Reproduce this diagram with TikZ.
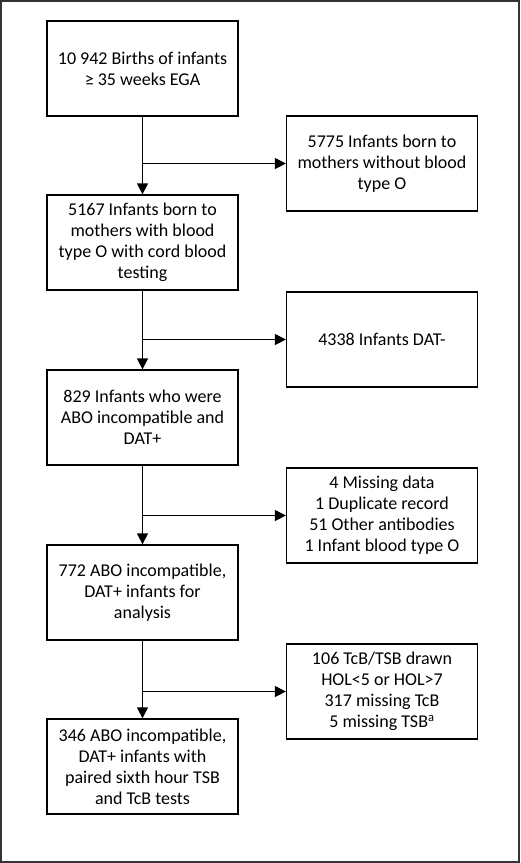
\documentclass[tikz,border=0pt]{standalone}
\usepackage{fontspec}
\setmainfont{Carlito}
\usetikzlibrary{arrows.meta}
\tikzset{
  stepbox/.style={draw, line width=1.3pt, minimum width=191pt, minimum height=95pt,
    align=center, inner sep=2pt, font=\fontsize{18}{21}\selectfont},
  arr/.style={line width=1.3pt, -{Triangle[length=11pt, width=11pt]}}
}
\begin{document}
\begin{tikzpicture}[x=1pt, y=1pt]
      \useasboundingbox (0,0) rectangle (520,-863);
      \draw[black!80, line width=2pt] (1,-1) rectangle (519,-862);

      % main column
      \node[stepbox] (births) at (142.5,-68.5) {10 942 Births of infants\\≥ 35 weeks EGA};
      \node[stepbox] (typeO) at (142.5,-242.5) {5167 Infants born to\\mothers with blood\\type O with cord blood\\testing};
      \node[stepbox] (datpos) at (142.5,-417.5) {829 Infants who were\\ABO incompatible and\\DAT+};
      \node[stepbox] (analysis) at (142.5,-592.5) {772 ABO incompatible,\\DAT+ infants for\\analysis};
      \node[stepbox] (paired) at (142.5,-766.5) {346 ABO incompatible,\\DAT+ infants with\\paired sixth hour TSB\\and TcB tests};

      % exclusions
      \node[stepbox] (notO) at (382,-163.5) {5775 Infants born to\\mothers without blood\\type O};
      \node[stepbox] (datneg) at (382,-339.5) {4338 Infants DAT-};
      \node[stepbox] (other) at (382,-515.5) {4 Missing data\\1 Duplicate record\\51 Other antibodies\\1 Infant blood type O};
      \node[stepbox] (missing) at (382,-691.5) {106 TcB/TSB drawn\\HOL<5 or HOL>7\\317 missing TcB\\5 missing TSB\textsuperscript{a}};

      \draw[arr] (births) -- (typeO);
      \draw[arr] (typeO) -- (datpos);
      \draw[arr] (datpos) -- (analysis);
      \draw[arr] (analysis) -- (paired);

      \draw[arr] (births.south |- notO.west) -- (notO);
      \draw[arr] (typeO.south |- datneg.west) -- (datneg);
      \draw[arr] (datpos.south |- other.west) -- (other);
      \draw[arr] (analysis.south |- missing.west) -- (missing);
    \end{tikzpicture}
\end{document}
